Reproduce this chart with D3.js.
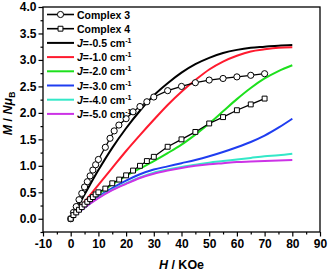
<!DOCTYPE html>
<html>
<head>
<meta charset="utf-8">
<script src="https://cdn.jsdelivr.net/npm/d3@7"></script>
<style>
  body { margin: 0; background: #fff; }
  svg text { font-family: "Liberation Sans", Arial, sans-serif; font-weight: bold; }
</style>
</head>
<body>
<svg id="chart" width="328" height="271"></svg>
<script>
// measured data
var h3 = [0, 1, 2, 3, 4, 5, 6, 7, 8, 9, 10, 12.5, 14.2, 15.7, 17.4, 20, 22.5, 25, 27.5, 30, 35, 40, 45, 50, 55, 60, 65, 70];
var m3 = [0, 0.12, 0.23, 0.36, 0.48, 0.60, 0.70, 0.81, 0.92, 1.02, 1.12, 1.35, 1.52, 1.66, 1.77, 1.89, 2.02, 2.12, 2.21, 2.30, 2.42, 2.50, 2.57, 2.62, 2.65, 2.68, 2.71, 2.74];

var h4 = [0, 1, 2, 3, 4, 5, 6, 7, 8, 9, 10, 12.5, 15, 17.5, 20, 22.5, 25, 27.5, 30, 35, 40, 45, 50, 55, 60, 65, 70];
var m4 = [0, 0.07, 0.12, 0.17, 0.22, 0.27, 0.32, 0.37, 0.41, 0.46, 0.50, 0.57, 0.67, 0.74, 0.82, 0.91, 1.00, 1.09, 1.17, 1.36, 1.50, 1.64, 1.80, 1.92, 2.05, 2.16, 2.27];

// simulated curves
var hSim = [0, 5, 10, 15, 20, 25, 30, 35, 40, 45, 50, 55, 60, 65, 70, 75, 80];
var mJ05 = [0, 0.46, 0.92, 1.34, 1.71, 2.04, 2.33, 2.56, 2.76, 2.92, 3.04, 3.13, 3.19, 3.23, 3.25, 3.27, 3.28];
var mJ10 = [0, 0.32, 0.64, 0.96, 1.28, 1.58, 1.87, 2.15, 2.40, 2.62, 2.82, 2.97, 3.08, 3.16, 3.20, 3.23, 3.24];
var mJ20 = [0, 0.26, 0.47, 0.65, 0.81, 0.95, 1.09, 1.24, 1.40, 1.59, 1.80, 2.03, 2.26, 2.47, 2.65, 2.79, 2.90];
var mJ30 = [0, 0.23, 0.42, 0.58, 0.72, 0.84, 0.93, 0.99, 1.05, 1.11, 1.18, 1.26, 1.35, 1.45, 1.57, 1.72, 1.89];
var mJ40 = [0, 0.21, 0.40, 0.55, 0.67, 0.78, 0.87, 0.93, 0.98, 1.02, 1.06, 1.09, 1.12, 1.15, 1.18, 1.20, 1.23];
var mJ50 = [0, 0.21, 0.39, 0.54, 0.66, 0.77, 0.85, 0.91, 0.96, 1.00, 1.03, 1.05, 1.07, 1.08, 1.09, 1.10, 1.11];

var simNames = ["-0.5", "-1.0", "-2.0", "-3.0", "-4.0", "-5.0"];
var simColors = ["#000000", "#ff1a2e", "#1de01d", "#1f3df0", "#33e8c8", "#cc33e6"];
var simValues = [mJ05, mJ10, mJ20, mJ30, mJ40, mJ50];

var xTicks = [-10, 0, 10, 20, 30, 40, 50, 60, 70, 80, 90];
var yTicks = [0, 0.5, 1, 1.5, 2, 2.5, 3, 3.5, 4];

var margin = {top: 7, right: 8, bottom: 39, left: 43},
    w = 328 - margin.left - margin.right,
    h = 271 - margin.top - margin.bottom;

var svg = d3.select("#chart");
var g = svg.append("g").attr("transform", "translate(" + margin.left + "," + margin.top + ")");

var xScale = d3.scaleLinear().domain([-10, 90]).range([0, w]);
var yScale = d3.scaleLinear().domain([-0.25, 4]).range([h, 0]);

// minor ticks
var xMinor = d3.range(-5, 90, 10);
var yMinor = d3.range(-0.25, 4, 0.5);

g.append("g")
  .attr("transform", "translate(0," + h + ")")
  .call(d3.axisBottom(xScale).tickValues(xMinor).tickSize(2.5).tickFormat(""))
  .call(function(a) { a.select(".domain").remove(); a.selectAll("line").attr("stroke-width", 1.2); });

g.append("g")
  .call(d3.axisLeft(yScale).tickValues(yMinor).tickSize(2.5).tickFormat(""))
  .call(function(a) { a.select(".domain").remove(); a.selectAll("line").attr("stroke-width", 1.2); });

var xAxis = g.append("g")
  .attr("transform", "translate(0," + h + ")")
  .call(d3.axisBottom(xScale).tickValues(xTicks).tickSize(4.5).tickPadding(3).tickFormat(function(d) { return String(d); }));
xAxis.select(".domain").remove();
xAxis.selectAll("line").attr("stroke-width", 1.2);
xAxis.selectAll("text").attr("font-size", 12).attr("fill", "#000")
  .style("font-family", "'Liberation Sans', Arial, sans-serif").style("font-weight", "bold");

var yAxis = g.append("g")
  .call(d3.axisLeft(yScale).tickValues(yTicks).tickSize(4.5).tickPadding(2).tickFormat(function(d) { return d.toFixed(1); }));
yAxis.select(".domain").remove();
yAxis.selectAll("line").attr("stroke-width", 1.2);
yAxis.selectAll("text").attr("font-size", 12).attr("fill", "#000")
  .style("font-family", "'Liberation Sans', Arial, sans-serif").style("font-weight", "bold");

// frame
g.append("rect")
  .attr("width", w).attr("height", h)
  .attr("fill", "none").attr("stroke", "#000").attr("stroke-width", 1.3);

// simulated lines
var simLine = d3.line()
  .x(function(d) { return xScale(d[0]); })
  .y(function(d) { return yScale(d[1]); })
  .curve(d3.curveMonotoneX);

simValues.forEach(function(vals, i) {
  g.append("path")
    .datum(hSim.map(function(hv, k) { return [hv, vals[k]]; }))
    .attr("fill", "none")
    .attr("stroke", simColors[i])
    .attr("stroke-width", 2)
    .attr("d", simLine);
});

// experimental data
var expLine = d3.line()
  .x(function(d) { return xScale(d[0]); })
  .y(function(d) { return yScale(d[1]); });

function drawExp(hs, ms, shape) {
  var pts = hs.map(function(hv, k) { return [hv, ms[k]]; });
  g.append("path").datum(pts)
    .attr("fill", "none").attr("stroke", "#000").attr("stroke-width", 1.3)
    .attr("d", expLine);
  var sym = d3.symbol().type(shape === "circle" ? d3.symbolCircle : d3.symbolSquare)
    .size(shape === "circle" ? 30 : 24);
  g.selectAll(null).data(pts).enter().append("path")
    .attr("transform", function(d) { return "translate(" + xScale(d[0]) + "," + yScale(d[1]) + ")"; })
    .attr("d", sym)
    .attr("fill", "#fff").attr("stroke", "#000").attr("stroke-width", 1);
}
drawExp(h3, m3, "circle");
drawExp(h4, m4, "square");

// legend
var leg = g.append("g").attr("transform", "translate(4,7.5)");
var rowH = 14.2;
var legItems = [{name: "Complex 3", shape: "circle"}, {name: "Complex 4", shape: "square"}];
simNames.forEach(function(n, i) { legItems.push({j: n, color: simColors[i]}); });

legItems.forEach(function(it, i) {
  var y = i * rowH;
  var row = leg.append("g").attr("transform", "translate(0," + y + ")");
  row.append("line").attr("x1", 0).attr("x2", 27).attr("y1", 0).attr("y2", 0)
    .attr("stroke", it.color || "#000").attr("stroke-width", it.color ? 2 : 1.6);
  if (it.shape) {
    row.append("path")
      .attr("transform", "translate(13.5,0)")
      .attr("d", d3.symbol().type(it.shape === "circle" ? d3.symbolCircle : d3.symbolSquare).size(it.shape === "circle" ? 30 : 24))
      .attr("fill", "#fff").attr("stroke", "#000").attr("stroke-width", 1);
  }
  var t = row.append("text").attr("x", 30).attr("y", 4).attr("font-size", 10.5).attr("fill", "#000");
  if (it.name) {
    t.text(it.name);
  } else {
    t.append("tspan").attr("font-style", "italic").text("J");
    t.append("tspan").text("=" + it.j + " cm");
    t.append("tspan").attr("font-size", 7).attr("dy", -4).text("-1");
  }
});

// axis labels
var xl = svg.append("text")
  .attr("x", margin.left + w / 2).attr("y", 269)
  .attr("text-anchor", "middle").attr("font-size", 12.5);
xl.append("tspan").attr("font-style", "italic").text("H");
xl.append("tspan").text(" / KOe");

var yl = svg.append("text")
  .attr("transform", "translate(12," + (margin.top + h / 2 - 6) + ")rotate(-90)")
  .attr("text-anchor", "middle").attr("font-size", 12.5);
yl.append("tspan").attr("font-style", "italic").text("M");
yl.append("tspan").text(" / ");
yl.append("tspan").attr("font-style", "italic").text("N\u03bc");
yl.append("tspan").attr("font-size", 8.5).attr("dy", 3).text("B");
</script>
</body>
</html>
